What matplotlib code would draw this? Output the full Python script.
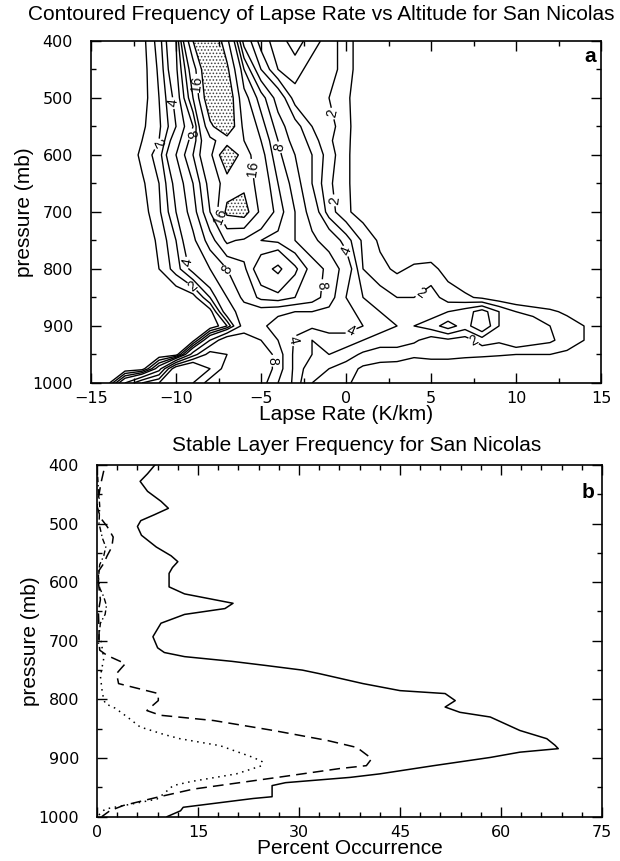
import numpy as np
import matplotlib.pyplot as plt
from matplotlib.ticker import MultipleLocator

plt.rcParams['font.family'] = ['Liberation Sans', 'DejaVu Sans']
plt.rcParams['hatch.color'] = '0.25'
plt.rcParams['hatch.linewidth'] = 0.7

# ---- panel a: contoured frequency (lapse rate vs pressure) ----
lapse = [-15, -14, -13, -12, -11, -10, -9, -8, -7, -6, -5, -4, -3, -2, -1, 0,
         1, 2, 3, 4, 5, 6, 7, 8, 9, 10, 11, 12, 13, 14, 15]
pres = [400, 450, 500, 550, 575, 600, 650, 700, 750, 800, 850, 875, 900, 925, 950, 975, 1000]
freq = [
    # -15 ........................ -1   0   1 .......................... 15
    [0, 0, 0, .6, 2.5, 6, 20, 26, 17, 5, 2.5, 1.5, 2.5, 1.5, 2.5, 1.5, .3, 0, 0, 0, 0, 0, 0, 0, 0, 0, 0, 0, 0, 0, 0],
    [0, 0, 0, .5, 2.2, 5.5, 14, 26, 21, 10, 4, 2, 1.5, 2.5, 2.5, 1.5, .3, 0, 0, 0, 0, 0, 0, 0, 0, 0, 0, 0, 0, 0, 0],
    [0, 0, 0, .5, 2, 4.5, 12, 24, 24, 13, 9, 5, 2.5, 2.5, 2, 1.2, .3, 0, 0, 0, 0, 0, 0, 0, 0, 0, 0, 0, 0, 0, 0],
    [0, 0, 0, .8, 1.8, 4, 8, 19, 24, 15, 11, 7, 4.5, 3, 2.5, 1.2, .5, 0, 0, 0, 0, 0, 0, 0, 0, 0, 0, 0, 0, 0, 0],
    [0, 0, 0, 1, 2, 5, 9, 15, 18, 16, 12, 8, 5, 3.5, 2.2, 1.2, .4, 0, 0, 0, 0, 0, 0, 0, 0, 0, 0, 0, 0, 0, 0],
    [0, 0, 0, 1.3, 2.5, 6, 10, 15, 24, 18, 13, 8.5, 6, 4, 2.5, 1.2, .3, 0, 0, 0, 0, 0, 0, 0, 0, 0, 0, 0, 0, 0, 0],
    [0, 0, 0, .8, 2, 4.5, 8, 13, 18, 19, 14, 10, 7, 4, 2.2, 1.2, .3, 0, 0, 0, 0, 0, 0, 0, 0, 0, 0, 0, 0, 0, 0],
    [0, 0, 0, .5, 1.8, 4, 7, 12, 21, 22, 15, 11, 8, 5, 2.5, 1.2, .5, .2, 0, 0, 0, 0, 0, 0, 0, 0, 0, 0, 0, 0, 0],
    [0, 0, 0, .3, 1.2, 3, 5.5, 9, 12.5, 11.5, 10, 9.5, 8, 6.5, 5, 3.5, 1.8, .8, .2, 0, 0, 0, 0, 0, 0, 0, 0, 0, 0, 0, 0],
    [0, 0, 0, 0, 1, 2.5, 4.5, 6, 8, 9.5, 14, 17, 12.5, 9, 7.5, 5, 2, 1.3, .8, 1.2, 1.3, .6, 0, 0, 0, 0, 0, 0, 0, 0, 0],
    [0, 0, 0, 0, 0, 0, .5, 3, 6, 8.5, 10.5, 11, 10, 9, 7, 4, 3, 2.5, 2, 2, 2.5, 1.5, 1.2, .8, .3, 0, 0, 0, 0, 0, 0],
    [0, 0, 0, 0, 0, 0, 0, .5, 5, 7, 7, 6.5, 6, 6, 5.5, 4.5, 3.5, 3, 2.5, 2.2, 2.5, 3, 3.5, 4.5, 3, 2, 1.5, 1.2, .8, .3, 0],
    [0, 0, 0, 0, 0, 0, 0, 0, 2, 7, 6.5, 5, 4.5, 4.2, 4.5, 4.5, 4, 3.5, 3, 3, 3.5, 4.5, 3.5, 5, 3, 2.5, 3, 2, 1.5, 1, .3],
    [0, 0, 0, 0, 0, 0, .5, 6, 10, 9, 8, 6, 3.8, 3, 3.5, 3.5, 3, 2.5, 2.5, 2.2, 1.5, 1.8, 1.5, 2.5, 2.2, 3, 2.5, 2.2, 1.5, 1, .5],
    [0, 0, 0, 0, 0, .3, 7, 11, 10, 9, 10, 7, 3.5, 3, 3, 2.5, 1.8, 1.5, 1.5, 1.2, 1.5, 1.5, 1.3, 1.2, 1.1, 1, 1, 1, .8, .3, 0],
    [0, 0, 0, .3, 5, 14, 16, 12, 9, 9, 10, 7, 3.5, 2.5, 2, 1.5, .8, .6, .5, .3, 0, 0, 0, 0, 0, 0, 0, 0, 0, 0, 0],
    [0, .5, 6, 10, 12, 14, 12, 9, 8, 9, 9, 6, 3.5, 2, 1.5, 1.2, .5, 0, 0, 0, 0, 0, 0, 0, 0, 0, 0, 0, 0, 0, 0],
]
plain_lev = [1, 3, 6, 10, 12, 20]

# label spots (lapse rate, pressure) for the labelled levels
lab2 = [(-10.5, 590), (-9.0, 829), (-2.3, 685), (-1.6, 533), (4.7, 856), (7.4, 931)]
lab4 = [(-10.4, 510), (-9.2, 788), (-3.6, 923), (0.3, 909), (0.05, 768)]
lab8 = [(-9.2, 563), (-4.4, 590), (-6.7, 797), (-1.2, 829), (-4.8, 961)]
lab16 = [(-9.2, 476), (-6.4, 627), (-7.6, 710)]

# ---- panel b: stable layer frequency ----
p_solid = [400, 415, 428, 445, 462, 474, 485, 495, 505, 520, 540, 555, 565, 575, 585, 608,
           620, 630, 636, 645, 655, 670, 693, 712, 720, 727, 735, 742, 750, 756, 773, 785,
           790, 802, 813, 822, 830, 853, 867, 878, 884, 890, 899, 913, 927, 933, 942, 947,
           966, 969, 984, 990, 1000]
v_solid = [8.6, 7.5, 6.4, 7.5, 9.5, 10.6, 8.5, 6.5, 6.0, 6.6, 8.8, 11, 12, 11.2, 10.7, 10.7,
           13, 17.5, 20.2, 19, 13, 9.5, 8.3, 9, 10, 13, 20, 25, 30.5, 33, 39.5, 45,
           51.7, 53.2, 51.7, 53.9, 58.4, 62.8, 66.8, 68, 68.5, 62.8, 58.4, 50, 42, 37.6, 28, 26,
           26, 23.2, 12.8, 12.4, 10.4]

p_dash = [410, 430, 450, 470, 490, 505, 523, 540, 555, 568, 580, 600, 630, 650, 680, 700,
          716, 725, 739, 748, 756, 773, 790, 802, 819, 827, 836, 853, 870, 882, 901, 913,
          918, 934, 953, 967, 981, 990, 1000]
v_dash = [1.0, 0.6, 0.3, 0.0, 0.5, 1.5, 2.4, 2.2, 1.5, 1.0, 0.3, 0.2, 0.5, 0.2, 0.3, 0.3,
          0.4, 1.5, 4.2, 3.5, 2.9, 3.2, 9.1, 9.1, 7.4, 9.4, 17.3, 26.2, 34.2, 38.6, 40.8, 40.0,
          36.0, 26.2, 14.3, 8.9, 3.9, 1.9, 0.7]

p_dot = [700, 730, 760, 790, 807, 815, 830, 847, 860, 867, 879, 899, 906, 913, 927, 940,
         947, 961, 970, 979, 987, 1000]
v_dot = [0.6, 1.0, 0.5, 0.8, 1.2, 2.7, 4.5, 6.4, 10, 12.3, 18.3, 23.2, 24.5, 24.5, 20.7, 14,
         11.3, 9.9, 8.9, 4.9, 1.2, 0.0]

p_dd = [420, 440, 470, 500, 525, 540, 555, 570, 590, 610, 625, 640, 655, 670, 690, 710]
v_dd = [0.1, 0.2, 0.4, 0.3, 0.8, 1.3, 1.0, 0.4, 0.2, 0.4, 1.0, 1.4, 1.2, 0.5, 0.3, 0.2]

fig = plt.figure(figsize=(6.2, 8.61), dpi=100)
ax1 = fig.add_axes([0.1468, 0.5552, 0.8226, 0.3973])
ax2 = fig.add_axes([0.1565, 0.0515, 0.8145, 0.4085])

X, P = np.meshgrid(lapse, pres)
Z = np.array(freq)
ax1.contourf(X, P, Z, levels=[20, 100], colors='none', hatches=['.....'])
ax1.contour(X, P, Z, levels=plain_lev, colors='k', linewidths=1.0)
for lv, spots in [(2, lab2), (4, lab4), (8, lab8), (16, lab16)]:
    cs = ax1.contour(X, P, Z, levels=[lv], colors='k', linewidths=1.0)
    ax1.clabel(cs, manual=spots, fmt='%d', fontsize=10, inline=True, inline_spacing=2)

ax1.set_xlim(-15, 15)
ax1.set_ylim(1000, 400)
ax1.xaxis.set_major_locator(MultipleLocator(5))
ax1.xaxis.set_minor_locator(MultipleLocator(2.5))
ax1.set_xlabel('Lapse Rate (K/km)', fontsize=15, labelpad=-1)
ax1.text(0.99, 0.938, 'a', transform=ax1.transAxes, ha='right', va='baseline',
         fontsize=15, fontweight='bold')

ax2.plot(v_solid, p_solid, color='k', lw=1.1)
ax2.plot(v_dash, p_dash, color='k', lw=1.1, ls=(0, (7, 4)))
ax2.plot(v_dot, p_dot, color='k', lw=1.1, ls=(0, (1, 3)))
ax2.plot(v_dd, p_dd, color='k', lw=1.0, ls=(0, (4, 2, 1, 2)))
ax2.set_xlim(0, 75)
ax2.set_ylim(1000, 400)
ax2.xaxis.set_major_locator(MultipleLocator(15))
ax2.xaxis.set_minor_locator(MultipleLocator(3))
ax2.set_xlabel('Percent Occurrence', fontsize=15, labelpad=-1)
ax2.text(0.985, 0.906, 'b', transform=ax2.transAxes, ha='right', va='baseline',
         fontsize=15, fontweight='bold')

for ax in (ax1, ax2):
    ax.yaxis.set_major_locator(MultipleLocator(100))
    ax.yaxis.set_minor_locator(MultipleLocator(50))
    ax.set_ylabel('pressure (mb)', fontsize=15, labelpad=-1)
    ax.tick_params(which='both', direction='in', top=True, right=True, width=1.0)
    ax.tick_params(which='major', length=7)
    ax.tick_params(which='minor', length=3.5)
    ax.tick_params(axis='y', pad=13)
    ax.tick_params(axis='x', pad=6)
    for lab in ax.get_xticklabels() + ax.get_yticklabels():
        lab.set_fontfamily('DejaVu Sans')
        lab.set_fontsize(11.5)
    for s in ax.spines.values():
        s.set_linewidth(1.2)

fig.text(321 / 620, 1 - 15 / 861, 'Contoured Frequency of Lapse Rate vs Altitude for San Nicolas',
         ha='center', va='center', fontsize=15)
fig.text(357 / 620, 1 - 446 / 861, 'Stable Layer Frequency for San Nicolas',
         ha='center', va='center', fontsize=15)

fig.savefig('out.png', dpi=100)
